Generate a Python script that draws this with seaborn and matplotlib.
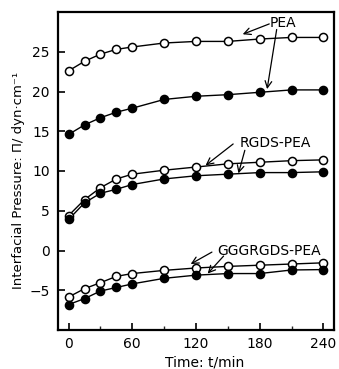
import numpy as np
import pandas as pd
import seaborn as sns
import matplotlib.pyplot as plt

# ── Data (interfacial pressure, dyn/cm) ──────────────────────────────────
TIME = [0, 15, 30, 45, 60, 90, 120, 150, 180, 210, 240]

PEA_OPEN = [22.6, 23.8, 24.7, 25.3, 25.6, 26.1, 26.3, 26.3, 26.6, 26.8, 26.8]
PEA_FILLED = [14.6, 15.8, 16.7, 17.4, 17.9, 19.0, 19.4, 19.6, 19.9, 20.2, 20.2]
RGDS_OPEN = [4.4, 6.4, 7.9, 9.0, 9.6, 10.1, 10.5, 10.9, 11.1, 11.3, 11.4]
RGDS_FILLED = [3.9, 6.0, 7.2, 7.7, 8.3, 9.0, 9.4, 9.6, 9.8, 9.8, 9.9]
GGG_OPEN = [-5.85, -4.8, -4.05, -3.25, -2.9, -2.5, -2.2, -2.0, -1.85, -1.7, -1.55]
GGG_FILLED = [-6.8, -6.05, -5.1, -4.65, -4.2, -3.5, -3.1, -2.9, -2.9, -2.45, -2.4]

SERIES = [
    ("PEA open", PEA_OPEN, "white"),
    ("PEA filled", PEA_FILLED, "black"),
    ("RGDS open", RGDS_OPEN, "white"),
    ("RGDS filled", RGDS_FILLED, "black"),
    ("GGG open", GGG_OPEN, "white"),
    ("GGG filled", GGG_FILLED, "black"),
]

sns.set_theme(style="ticks")
plt.rcParams["font.family"] = ["DejaVu Sans"]
plt.rcParams["text.color"] = "black"

fig = plt.figure(figsize=(3.39, 3.69), dpi=100)
ax = fig.add_axes([58 / 339, 39 / 369, 276 / 339, 318 / 369])

for name, vals, face in SERIES:
    df = pd.DataFrame({"t": TIME, "p": vals})
    sns.lineplot(data=df, x="t", y="p", color="black", linewidth=1.0,
                 ax=ax, zorder=2)
    sns.scatterplot(data=df, x="t", y="p", color=face, edgecolor="black",
                    linewidth=1.1, s=34, ax=ax, zorder=3)

# ── Axes ────────────────────────────────────────────────────────────────
ax.set_xlim(-10, 250)
ax.set_ylim(-10, 30)
ax.set_xticks([0, 60, 120, 180, 240])
ax.set_xticks([30, 90, 150, 210], minor=True)
ax.set_yticks([-5, 0, 5, 10, 15, 20, 25])
ax.tick_params(axis="both", which="major", direction="in", length=5,
               width=1.2, labelsize=10, color="black", labelcolor="black")
ax.tick_params(axis="x", which="major", pad=5)
ax.tick_params(axis="y", which="major", pad=6)
ax.tick_params(axis="x", which="minor", direction="in", length=3, width=1.0)
for sp in ax.spines.values():
    sp.set_linewidth(1.6)
    sp.set_color("black")
    sp.set_visible(True)

ax.set_xlabel("Time: t/min", fontsize=10, color="black")
ax.set_ylabel("Interfacial Pressure: Π/ dyn·cm⁻¹", fontsize=9.5, color="black")
ax.xaxis.set_label_coords(0.53, -0.08)
ax.yaxis.set_label_coords(-0.12, 0.47)

# ── Annotations with arrows ─────────────────────────────────────────────
arrow = dict(arrowstyle="->", color="black", linewidth=0.9,
             shrinkA=0, shrinkB=0, mutation_scale=12)
ax.text(202, 28.6, "PEA", fontsize=10, ha="center", va="center", color="black")
ax.annotate("", xy=(164, 27.2), xytext=(189, 28.5), arrowprops=arrow)
ax.annotate("", xy=(187, 20.3), xytext=(196, 27.8), arrowprops=arrow)

ax.text(195, 13.5, "RGDS-PEA", fontsize=10, ha="center", va="center", color="black")
ax.annotate("", xy=(129, 10.7), xytext=(155, 13.4), arrowprops=arrow)
ax.annotate("", xy=(160, 9.7), xytext=(166, 12.6), arrowprops=arrow)

ax.text(189, -0.1, "GGGRGDS-PEA", fontsize=10, ha="center", va="center", color="black")
ax.annotate("", xy=(115, -1.7), xytext=(135, -0.2), arrowprops=arrow)
ax.annotate("", xy=(131, -2.9), xytext=(146, -0.7), arrowprops=arrow)

fig.savefig("out.png", dpi=100, facecolor="white")
